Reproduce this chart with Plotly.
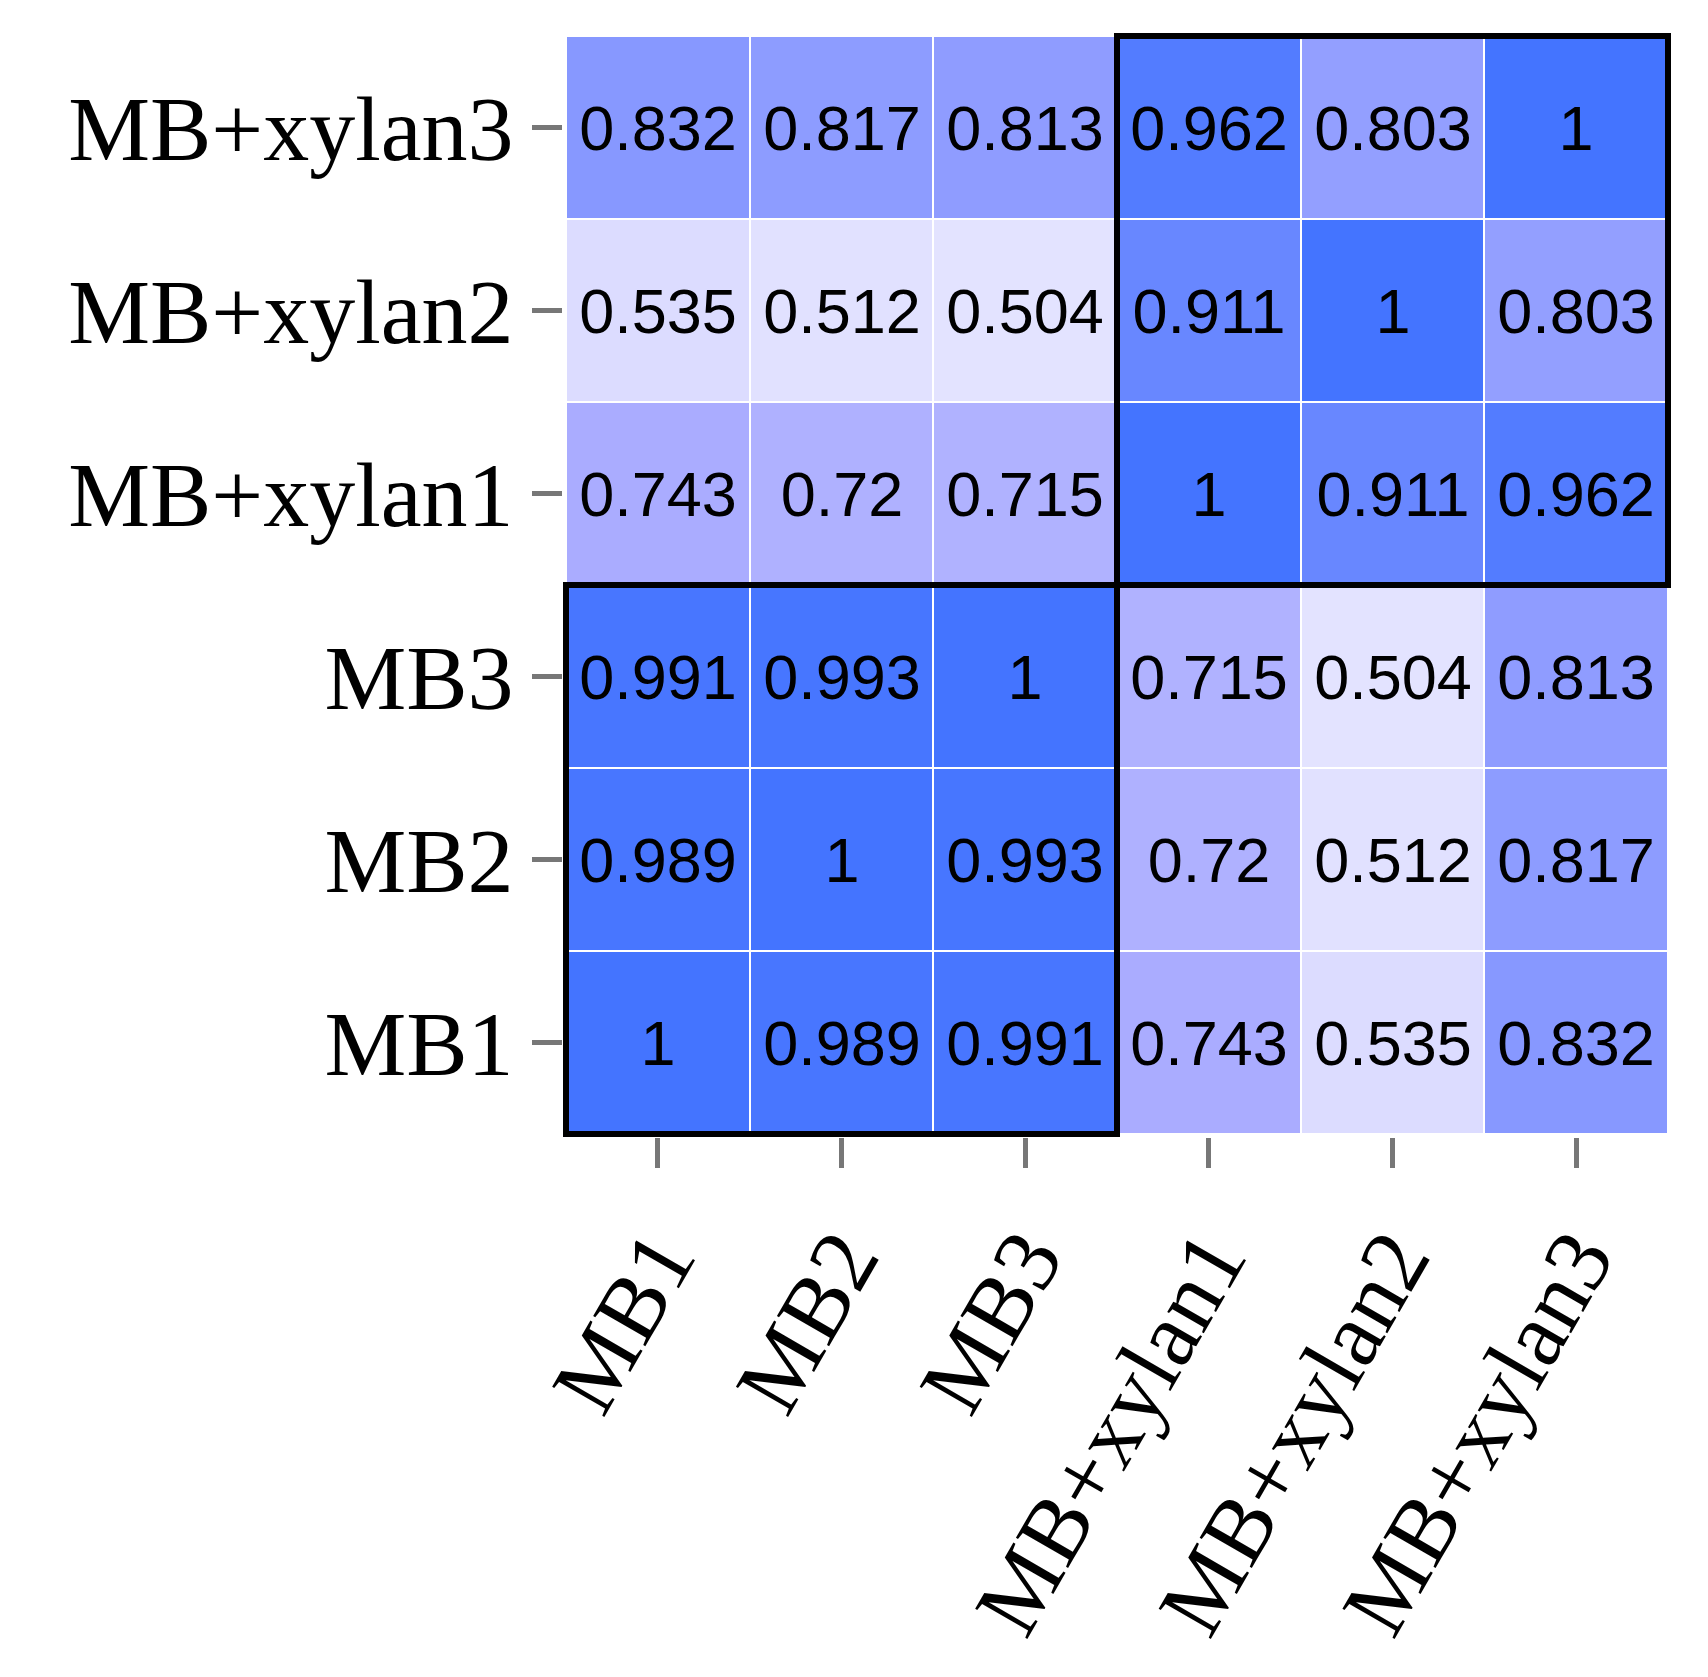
import plotly.graph_objects as go

labels = ['MB1', 'MB2', 'MB3', 'MB+xylan1', 'MB+xylan2', 'MB+xylan3']

# correlation matrix, row i = labels[i]
corr = [
    [1, 0.989, 0.991, 0.743, 0.535, 0.832],
    [0.989, 1, 0.993, 0.72, 0.512, 0.817],
    [0.991, 0.993, 1, 0.715, 0.504, 0.813],
    [0.743, 0.72, 0.715, 1, 0.911, 0.962],
    [0.535, 0.512, 0.504, 0.911, 1, 0.803],
    [0.832, 0.817, 0.813, 0.962, 0.803, 1],
]
text = [[str(v) for v in row] for row in corr]

fig = go.Figure(go.Heatmap(
    z=corr, x=labels, y=labels, text=text, texttemplate='%{text}',
    textfont=dict(family='Liberation Sans', size=63, color='black'),
    colorscale=[[0, '#E4E4FF'], [0.5, '#A8AAFF'], [1, '#4474FF']],
    zmin=0.5, zmax=1, showscale=False, xgap=2, ygap=2,
))

# cluster boxes
for x0, x1, y0, y1 in [(-0.5, 2.5, -0.5, 2.5), (2.5, 5.5, 2.5, 5.5)]:
    fig.add_shape(type='rect', x0=x0, x1=x1, y0=y0, y1=y1,
                  line=dict(color='black', width=6))

axis_style = dict(ticks='outside', ticklen=30, tickwidth=5, tickcolor='#777777',
                  showgrid=False, zeroline=False, showline=False,
                  tickfont=dict(family='Liberation Serif', size=92, color='black'))
fig.update_xaxes(tickangle=-60, **axis_style)
fig.update_yaxes(**axis_style)

fig.update_layout(
    width=1708, height=1677,
    margin=dict(l=555, r=45, t=25, b=548),
    plot_bgcolor='white', paper_bgcolor='white',
)

fig.write_html('out.html')
